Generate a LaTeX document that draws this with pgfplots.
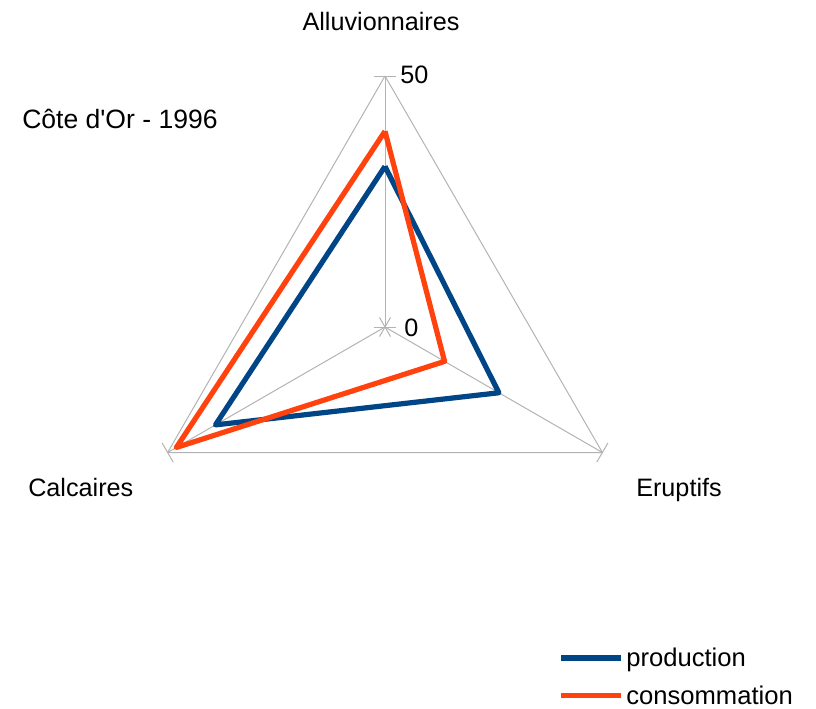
\documentclass[border=0pt]{standalone}
\usepackage{pgfplots}
\pgfplotsset{compat=1.18}
\usepgfplotslibrary{polar}
\usepackage{fontspec}
\setmainfont{Liberation Sans}
\definecolor{prod}{HTML}{004586}
\definecolor{cons}{HTML}{FF420E}
\definecolor{gridc}{HTML}{B3B3B3}
\newcommand{\lab}{\fontsize{18.9}{22}\selectfont}
\begin{document}
\begin{tikzpicture}
\useasboundingbox (0pt,0pt) rectangle (612pt,-531.75pt);
\begin{polaraxis}[
  at={(288.75pt,-245.25pt)}, anchor=origin,
  scale only axis, width=376.5pt, height=376.5pt,
  ymin=0, ymax=50, xmin=0, xmax=360,
  hide axis, clip=false,
  legend style={at={(axis description cs:0.845,-0.133)}, anchor=north west,
    draw=none, fill=none, font=\fontsize{19.2}{22}\selectfont, row sep=9pt, inner sep=0pt,
    legend cell align=left},
  legend image code/.code={\draw[#1] (0pt,0pt) -- (45pt,0pt);},
]
% grid
\addplot[gridc, line width=0.75pt, forget plot] coordinates {(90,50) (210,50) (330,50) (90,50)};
\addplot[gridc, line width=0.75pt, forget plot] coordinates {(90,0) (90,50)};
\addplot[gridc, line width=0.75pt, forget plot] coordinates {(210,0) (210,50)};
\addplot[gridc, line width=0.75pt, forget plot] coordinates {(330,0) (330,50)};
% ticks
\addplot[gridc, line width=0.75pt, forget plot] coordinates {(87.38,50.05) (92.62,50.05)};
\addplot[gridc, line width=0.75pt, forget plot] coordinates {(207.48,50.05) (212.52,50.05)};
\addplot[gridc, line width=0.75pt, forget plot] coordinates {(327.48,50.05) (332.52,50.05)};
\addplot[gridc, line width=0.75pt, forget plot] coordinates {(0,2.2) (180,2.2)};
\addplot[gridc, line width=0.75pt, forget plot] coordinates {(60,2.2) (240,2.2)};
\addplot[gridc, line width=0.75pt, forget plot] coordinates {(120,2.2) (300,2.2)};
% data
\addplot[prod, line width=3.9pt, line join=round] coordinates {(90,32) (330,26.2) (210,39) (90,32)};
\addplot[cons, line width=3.9pt, line join=round] coordinates {(90,39) (330,13.7) (210,48) (90,39)};
\legend{production, consommation}
\end{polaraxis}
\node[font=\lab, anchor=base] at (285.75pt,-23.25pt) {Alluvionnaires};
\node[font=\fontsize{19.9}{23}\selectfont, anchor=base west, inner sep=0pt] at (16.5pt,-96.75pt) {Côte d{\addfontfeature{Ligatures=TeXOff}'}Or - 1996};
\node[font=\lab, anchor=base west, inner sep=0pt] at (21pt,-372pt) {Calcaires};
\node[font=\lab, anchor=base west, inner sep=0pt] at (477pt,-372pt) {Eruptifs};
\node[font=\lab, anchor=base west, inner sep=0pt] at (300pt,-63pt) {50};
\node[font=\lab, anchor=base west, inner sep=0pt] at (303pt,-252pt) {0};
\end{tikzpicture}
\end{document}
